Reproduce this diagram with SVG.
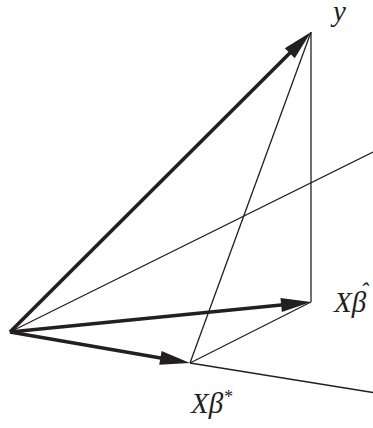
<svg xmlns="http://www.w3.org/2000/svg" width="373" height="428" viewBox="0 0 373 428">
<style>
.thin{stroke:#231f20;stroke-width:1.3;fill:none}
.thick{stroke:#231f20;stroke-width:3.6;fill:none;marker-end:url(#ah)}
.lbl{font-family:"Liberation Serif","Times New Roman",serif;font-style:italic;font-size:29px;fill:#231f20}
</style>
<defs>
<marker id="ah" markerUnits="userSpaceOnUse" markerWidth="30" markerHeight="14" refX="15" refY="7" orient="auto" overflow="visible">
<path d="M0,0 L30,7 L0,14 Z" fill="#231f20"/>
</marker>
</defs>
<rect width="373" height="428" fill="#ffffff"/>
<g id="connectors">
<line class="thin" x1="10" y1="332" x2="373" y2="152"/>
<line class="thin" x1="190" y1="363" x2="373" y2="392.5"/>
<line class="thin" x1="190" y1="363" x2="311" y2="32"/>
<line class="thin" x1="190" y1="363" x2="311" y2="302"/>
<line class="thin" x1="311" y1="32" x2="311" y2="302"/>
<line class="thick" x1="10" y1="332" x2="300.4" y2="42.6"/>
<line class="thick" x1="10" y1="332" x2="296.1" y2="303.5"/>
<line class="thick" x1="10" y1="332" x2="175.2" y2="360.45"/>
</g>
<g id="node-y"><text class="lbl" x="333" y="21" font-size="33">y</text></g>
<g id="node-xbetahat"><text class="lbl" x="334" y="312">Xβ<tspan font-size="24" dx="-6" dy="-13">ˆ</tspan></text></g>
<g id="node-xbetastar"><text class="lbl" x="191" y="413">Xβ<tspan font-size="18" dy="-10">*</tspan></text></g>
</svg>
